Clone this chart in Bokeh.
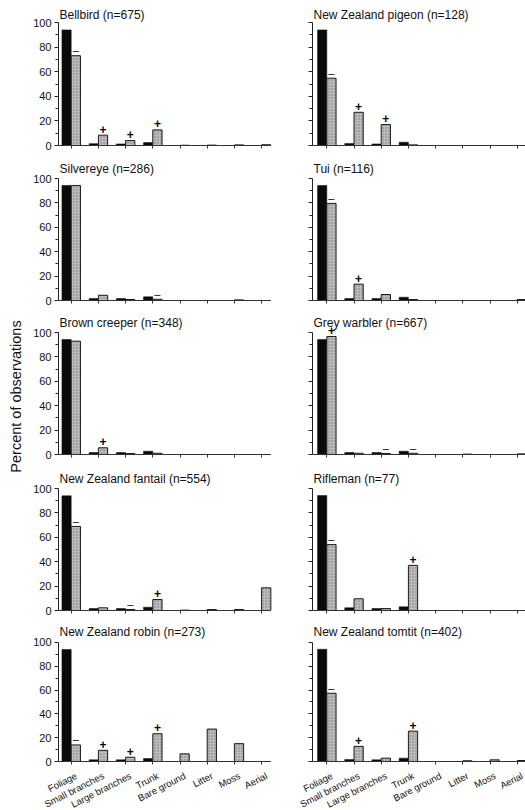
import math
from bokeh.plotting import figure
from bokeh.layouts import row, column
from bokeh.models import Range1d, FixedTicker, ColumnDataSource, CustomLabelingPolicy
from bokeh.transform import dodge
from bokeh.core.properties import value
from bokeh.embed import file_html
from bokeh.resources import INLINE

# ---------------- data ----------------
categories = ["Foliage", "Small branches", "Large branches", "Trunk",
              "Bare ground", "Litter", "Moss", "Aerial"]

bellbird_title = "Bellbird (n=675)"
bellbird_avail = [94.0, 1.5, 1.3, 2.4, 0, 0, 0, 0]
bellbird_used = [73.0, 8.4, 4.0, 12.7, 0.2, 0.3, 0.5, 0.6]
bellbird_sig = ["–", "+", "+", "+", "", "", "", ""]

pigeon_title = "New Zealand pigeon (n=128)"
pigeon_avail = [94.0, 1.6, 1.3, 2.7, 0, 0, 0, 0]
pigeon_used = [54.7, 27.0, 17.0, 0.5, 0, 0, 0, 0]
pigeon_sig = ["–", "+", "+", "", "", "", "", ""]

silvereye_title = "Silvereye (n=286)"
silvereye_avail = [94.3, 1.6, 1.6, 3.0, 0, 0, 0, 0]
silvereye_used = [94.3, 4.3, 0.8, 1.0, 0, 0, 0.5, 0]
silvereye_sig = ["", "", "", "–", "", "", "", ""]

tui_title = "Tui (n=116)"
tui_avail = [94.3, 1.6, 1.6, 2.7, 0, 0, 0, 0]
tui_used = [79.6, 13.4, 4.9, 0.8, 0, 0, 0, 0.8]
tui_sig = ["–", "+", "", "", "", "", "", ""]

creeper_title = "Brown creeper (n=348)"
creeper_avail = [94.3, 1.6, 1.6, 2.7, 0, 0, 0, 0]
creeper_used = [92.9, 5.5, 0.8, 1.0, 0, 0, 0, 0]
creeper_sig = ["", "+", "", "", "", "", "", ""]

warbler_title = "Grey warbler (n=667)"
warbler_avail = [94.3, 1.6, 1.6, 2.7, 0, 0, 0, 0]
warbler_used = [96.7, 1.0, 0.8, 1.0, 0, 0.3, 0, 0.5]
warbler_sig = ["+", "", "–", "–", "", "", "", ""]

fantail_title = "New Zealand fantail (n=554)"
fantail_avail = [94.0, 1.6, 1.6, 2.7, 0, 0, 0, 0]
fantail_used = [68.9, 2.2, 0.8, 9.0, 0.3, 0.8, 0.8, 18.6]
fantail_sig = ["–", "", "–", "+", "", "", "", ""]

rifleman_title = "Rifleman (n=77)"
rifleman_avail = [94.2, 2.2, 1.6, 3.0, 0, 0, 0, 0]
rifleman_used = [54.0, 9.6, 1.6, 37.0, 0, 0, 0, 0]
rifleman_sig = ["–", "", "", "+", "", "", "", ""]

robin_title = "New Zealand robin (n=273)"
robin_avail = [94.0, 1.4, 1.4, 2.5, 0, 0, 0, 0]
robin_used = [13.9, 9.4, 3.6, 23.3, 6.4, 27.2, 15.0, 0]
robin_sig = ["–", "+", "+", "+", "", "", "", ""]

tomtit_title = "New Zealand tomtit (n=402)"
tomtit_avail = [94.2, 1.7, 1.4, 2.8, 0, 0, 0, 0]
tomtit_used = [57.3, 12.7, 2.8, 25.5, 0, 0.6, 1.4, 0.8]
tomtit_sig = ["–", "+", "", "+", "", "", "", ""]

y_ticks = [0, 20, 40, 60, 80, 100]
y_minor = [10, 30, 50, 70, 90]
y_label = "Percent of observations"

# ---------------- layout constants (page pixels; bokeh page has no margin) ----
FONT = "Liberation Sans"
PX_PER_CAT = 27.2
LABEL_W = 24
LEFT_W = 276
RIGHT_W = 225
LEFT_BORDER = 34
RIGHT_BORDER = 12
LEFT_FIRST_OFF = 12.7   # px from y-axis to first category
RIGHT_FIRST_OFF = 14.3
LEFT_AXIS_END_PX = 212  # left x-axis line length
BAR_W = 0.34
PAGE_LEFT = LABEL_W
LEFT_AXIS_PX = PAGE_LEFT + LEFT_BORDER
RIGHT_AXIS_PX = PAGE_LEFT + LEFT_W + RIGHT_BORDER
PAGE_BOTTOM = 810
CAT_LABEL_Y_PX = 1.5    # label anchor below the strip top
CAT_LABEL_SHIFT_PX = 2.5
CAT_LABEL_ANGLE = math.radians(27)
YLABEL_X, YLABEL_Y = 15, 396
PLUS_GAP_PX, MINUS_GAP_PX = 6.0, 5.5

# (fig_top, fig_bottom, zero_px, hundred_px, title_gap_px)
ROWS = [
    (0, 155, 145, 22, 8),
    (155, 310, 300, 178, 10),
    (310, 464, 454, 332, 10),
    (464, 620, 610, 488, 10),
    (620, 768, 762, 642, 10),
]

panels = [
    [(bellbird_title, bellbird_avail, bellbird_used, bellbird_sig),
     (pigeon_title, pigeon_avail, pigeon_used, pigeon_sig)],
    [(silvereye_title, silvereye_avail, silvereye_used, silvereye_sig),
     (tui_title, tui_avail, tui_used, tui_sig)],
    [(creeper_title, creeper_avail, creeper_used, creeper_sig),
     (warbler_title, warbler_avail, warbler_used, warbler_sig)],
    [(fantail_title, fantail_avail, fantail_used, fantail_sig),
     (rifleman_title, rifleman_avail, rifleman_used, rifleman_sig)],
    [(robin_title, robin_avail, robin_used, robin_sig),
     (tomtit_title, tomtit_avail, tomtit_used, tomtit_sig)],
]

NO_LABELS = "return []"

left_x_start = -LEFT_FIRST_OFF / PX_PER_CAT
right_x_start = -RIGHT_FIRST_OFF / PX_PER_CAT


def make_panel(spec, rowspec, side):
    title, avail, used, sig = spec
    top, bot, zero, hundred, tgap = rowspec
    fig_h = bot - top
    frame_h = zero - top
    ppu = (zero - hundred) / 100.0
    y_end = frame_h / ppu

    if side == "left":
        width, border, x_start = LEFT_W, LEFT_BORDER, left_x_start
    else:
        width, border, x_start = RIGHT_W, RIGHT_BORDER, right_x_start
    frame_w = width - border
    x_end = x_start + frame_w / PX_PER_CAT

    p = figure(width=width, height=fig_h, output_backend="svg",
               toolbar_location=None, title=None,
               x_range=Range1d(x_start, x_end), y_range=Range1d(0, y_end),
               min_border_left=border, min_border_right=0,
               min_border_top=0, min_border_bottom=bot - zero)
    p.outline_line_color = None
    p.grid.visible = False
    p.background_fill_color = "white"
    p.border_fill_color = "white"

    idx = list(range(len(categories)))
    gaps = [(PLUS_GAP_PX if s == "+" else MINUS_GAP_PX) / ppu for s in sig]
    styles = ["bold" if s == "+" else "normal" for s in sig]
    sizes = ["12px" if s == "+" else "11px" for s in sig]
    src = ColumnDataSource(dict(idx=idx, avail=avail, used=used, sig=sig,
                                style=styles, size=sizes,
                                sig_y=[u + g for u, g in zip(used, gaps)]))

    p.vbar(x=dodge("idx", -BAR_W / 2, range=p.x_range), top="avail", bottom=0,
           width=BAR_W, source=src, fill_color="#0a0a0a", line_color="#0a0a0a",
           line_width=0.5)
    p.vbar(x=dodge("idx", BAR_W / 2, range=p.x_range), top="used", bottom=0,
           width=BAR_W, source=src, fill_color="#bcbcbc", line_color="#1a1a1a",
           line_width=1, hatch_pattern="dot", hatch_color="#7a7a7a",
           hatch_scale=3, hatch_weight=0.6)
    p.text(x=dodge("idx", BAR_W / 2, range=p.x_range), y="sig_y", text="sig",
           source=src, text_font=value(FONT), text_font_size="size",
           text_font_style="style",
           text_align="center", text_baseline="middle", text_color="#000000")

    # panel title
    p.text(x=[x_start + 1.0 / PX_PER_CAT], y=[100 + tgap / ppu], text=[title],
           text_font=value(FONT), text_font_size="12px", text_align="left",
           text_baseline="middle", text_color="#111111")

    # y axis
    ya = p.yaxis[0]
    ya.ticker = FixedTicker(ticks=y_ticks, minor_ticks=y_minor)
    ya.bounds = (0, 100)
    ya.axis_line_color = "#222222"
    ya.major_tick_line_color = "#222222"
    ya.minor_tick_line_color = "#222222"
    ya.major_tick_out = 4
    ya.major_tick_in = 0
    ya.minor_tick_out = 3
    ya.minor_tick_in = 0
    ya.major_label_text_font = FONT
    ya.major_label_text_color = "#111111"
    if side == "left":
        ya.major_label_text_font_size = "11px"
        ya.major_label_standoff = 3
    else:
        ya.major_label_text_font_size = "1px"
        ya.major_label_standoff = 0
        ya.major_label_policy = CustomLabelingPolicy(code=NO_LABELS)

    # x axis (ticks only; category names are drawn in the strip below)
    xa = p.xaxis[0]
    xa.ticker = FixedTicker(ticks=idx, minor_ticks=[])
    if side == "left":
        xa.bounds = (x_start, x_start + LEFT_AXIS_END_PX / PX_PER_CAT)
    else:
        xa.bounds = (x_start, x_end)
    xa.axis_line_color = "#333333"
    xa.major_tick_line_color = "#333333"
    xa.major_tick_out = 3
    xa.major_tick_in = 0
    xa.major_label_text_font_size = "1px"
    xa.major_label_standoff = 0
    xa.major_label_policy = CustomLabelingPolicy(code=NO_LABELS)
    return p


rows = []
for pair, rowspec in zip(panels, ROWS):
    left = make_panel(pair[0], rowspec, "left")
    right = make_panel(pair[1], rowspec, "right")
    rows.append(row(left, right, spacing=0))

# ---- category label strip under the bottom row, sharing the panel scales ----
strip_w = LEFT_W + RIGHT_W
strip_h = PAGE_BOTTOM - ROWS[-1][1]
ls = left_x_start - (LEFT_AXIS_PX - PAGE_LEFT) / PX_PER_CAT
rs = right_x_start - (RIGHT_AXIS_PX - PAGE_LEFT) / PX_PER_CAT
strip = figure(width=strip_w, height=strip_h, output_backend="svg",
               toolbar_location=None, title=None,
               x_range=Range1d(ls, ls + strip_w / PX_PER_CAT),
               y_range=Range1d(0, strip_h), min_border=0)
strip.extra_x_ranges = {"right": Range1d(rs, rs + strip_w / PX_PER_CAT)}
strip.axis.visible = False
strip.grid.visible = False
strip.outline_line_color = None
cat_src = ColumnDataSource(dict(idx=list(range(len(categories))), name=categories,
                                y=[strip_h - CAT_LABEL_Y_PX] * len(categories)))
shift = CAT_LABEL_SHIFT_PX / PX_PER_CAT
strip.text(x=dodge("idx", shift, range=strip.x_range), y="y", text="name",
           source=cat_src, angle=CAT_LABEL_ANGLE, text_font=value(FONT),
           text_font_size="9.5px", text_align="right", text_baseline="top",
           text_color="#111111")
strip.text(x=dodge("idx", shift, range=strip.extra_x_ranges["right"]), y="y",
           text="name", source=cat_src, x_range_name="right",
           angle=CAT_LABEL_ANGLE, text_font=value(FONT),
           text_font_size="9.5px", text_align="right", text_baseline="top",
           text_color="#111111")

total_h = PAGE_BOTTOM
lab = figure(width=LABEL_W, height=total_h, output_backend="svg",
             toolbar_location=None, title=None,
             x_range=Range1d(0, LABEL_W), y_range=Range1d(0, total_h),
             min_border=0)
lab.axis.visible = False
lab.grid.visible = False
lab.outline_line_color = None
lab.text(x=[YLABEL_X], y=[total_h - YLABEL_Y], text=[y_label],
         angle=math.pi / 2, text_font=value(FONT), text_font_size="14.5px",
         text_align="center", text_baseline="middle", text_color="#111111")

layout = row(lab, column(*rows, strip, spacing=0), spacing=0)

open("out.html", "w").write(file_html(layout, INLINE))
